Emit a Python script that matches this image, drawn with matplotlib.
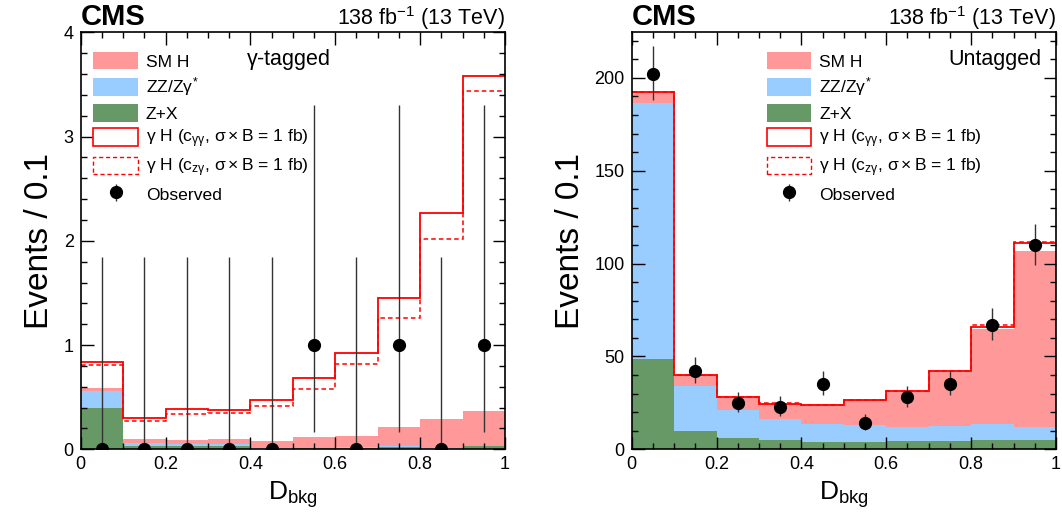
import numpy as np
import matplotlib
matplotlib.use("Agg")
import matplotlib.pyplot as plt
from matplotlib.patches import Patch
from matplotlib.ticker import MultipleLocator, FuncFormatter

plt.rcParams["font.family"] = ["Liberation Sans", "DejaVu Sans"]
plt.rcParams["mathtext.fontset"] = "custom"
plt.rcParams["mathtext.rm"] = "Liberation Sans"
plt.rcParams["mathtext.it"] = "Liberation Sans"
plt.rcParams["mathtext.bf"] = "Liberation Sans:bold"

edges = np.round(np.arange(0, 1.01, 0.1), 2)
centers = edges[:-1] + 0.05

# gamma-tagged category (stacked totals)
tag_zx = [0.40, 0.03, 0.03, 0.03, 0.005, 0.01, 0.015, 0.02, 0.005, 0.03]
tag_zz = [0.56, 0.064, 0.055, 0.05, 0.01, 0.015, 0.02, 0.03, 0.01, 0.035]
tag_smh = [0.59, 0.10, 0.09, 0.10, 0.083, 0.118, 0.128, 0.214, 0.29, 0.368]
tag_gg = [0.84, 0.297, 0.387, 0.374, 0.47, 0.684, 0.92, 1.455, 2.27, 3.58]
tag_zg = [0.805, 0.27, 0.34, 0.35, 0.415, 0.575, 0.815, 1.26, 2.02, 3.44]
tag_obs = [0, 0, 0, 0, 0, 1, 0, 1, 0, 1]
tag_lo = [0, 0, 0, 0, 0, 0.83, 0, 0.83, 0, 0.83]
tag_hi = [1.84, 1.84, 1.84, 1.84, 1.84, 2.30, 1.84, 2.30, 1.84, 2.30]

# untagged category (stacked totals)
unt_zx = [48.5, 9.9, 5.9, 5.0, 4.1, 4.1, 4.3, 4.3, 4.8, 4.8]
unt_zz = [186.6, 34.3, 21.2, 16.3, 13.6, 12.9, 12.0, 12.6, 13.8, 12.0]
unt_smh = [192.2, 39.9, 27.8, 24.4, 23.7, 26.4, 31.1, 41.6, 64.8, 106.8]
unt_gg = [192.2, 40.1, 28.0, 24.6, 23.9, 26.6, 31.3, 41.9, 66.1, 110.9]
unt_zg = [192.2, 40.2, 28.1, 24.7, 24.0, 26.7, 31.4, 42.4, 66.8, 111.8]
unt_obs = [202, 42, 25, 23, 35, 14, 28, 35, 67, 110]
unt_lo = [14, 6.5, 5.0, 4.8, 5.9, 3.7, 5.3, 5.9, 8.2, 10.5]
unt_hi = [15, 7.5, 6.0, 5.8, 6.9, 4.8, 6.3, 6.9, 9.2, 11.5]

c_smh = "#ff9999"
c_zz = "#99ccff"
c_zx = "#669966"
c_sig = "#ff0000"


def draw_panel(ax, zx, zz, smh, gg, zg, obs, lo, hi, ymax, major, minor, tag, tag_x, tag_ha, leg_x):
    ax.stairs(smh, edges, fill=True, color=c_smh, lw=0)
    ax.stairs(zz, edges, fill=True, color=c_zz, lw=0)
    ax.stairs(zx, edges, fill=True, color=c_zx, lw=0)
    ax.stairs(gg, edges, baseline=None, color=c_sig, lw=1.3)
    ax.stairs(zg, edges, baseline=None, color=c_sig, lw=1.1, ls=(0, (3, 2)))
    ax.errorbar(centers, obs, yerr=[lo, hi], fmt="o", color="black", ecolor="#333333",
                ms=8.5, elinewidth=1.0, capsize=0, zorder=5)

    ax.set_xlim(0, 1)
    ax.set_ylim(0, ymax)
    ax.xaxis.set_major_locator(MultipleLocator(0.2))
    ax.xaxis.set_minor_locator(MultipleLocator(0.05))
    ax.yaxis.set_major_locator(MultipleLocator(major))
    ax.yaxis.set_minor_locator(MultipleLocator(minor))
    ax.xaxis.set_major_formatter(FuncFormatter(lambda v, p: "%g" % round(v, 2)))
    ax.tick_params(which="both", direction="in", top=True, right=True, labelsize=13, width=1.0)
    ax.tick_params(which="major", length=9, pad=5)
    ax.tick_params(which="minor", length=4.5)
    for s in ax.spines.values():
        s.set_linewidth(1.2)

    ax.set_xlabel(r"D$_{\mathregular{bkg}}$", fontsize=19, labelpad=4)
    ax.set_ylabel("Events / 0.1", fontsize=24, labelpad=6)

    ax.text(0.0, 1.017, "CMS", transform=ax.transAxes, fontsize=21, fontweight="bold",
            ha="left", va="baseline")
    ax.text(1.0, 1.017, r"138 fb$^{\mathregular{-1}}$ (13 TeV)", transform=ax.transAxes,
            fontsize=15.5, ha="right", va="baseline")
    ax.text(tag_x, 0.935, tag, transform=ax.transAxes, fontsize=15.5, ha=tag_ha, va="center")

    handles = [
        Patch(facecolor=c_smh, edgecolor="none"),
        Patch(facecolor=c_zz, edgecolor="none"),
        Patch(facecolor=c_zx, edgecolor="none"),
        Patch(facecolor="white", edgecolor=c_sig, lw=1.2),
        Patch(facecolor="white", edgecolor=c_sig, lw=1.0, ls=(0, (3, 2))),
        ax.errorbar([], [], yerr=[], fmt="o", color="black", ecolor="#333333",
                    ms=8.5, elinewidth=1.0),
    ]
    labels = [
        "SM H",
        r"ZZ/Z$\gamma^{*}$",
        "Z+X",
        r"$\gamma$ H (c$_{\gamma\gamma}$, $\sigma\times$B = 1 fb)",
        r"$\gamma$ H (c$_{z\gamma}$, $\sigma\times$B = 1 fb)",
        "Observed",
    ]
    ax.legend(handles, labels, loc="upper left", bbox_to_anchor=(leg_x, 0.953),
              frameon=False, fontsize=12.6, handlelength=2.55, handleheight=1.15,
              labelspacing=0.34, handletextpad=0.45, borderpad=0, borderaxespad=0)


fig = plt.figure(figsize=(10.62, 5.18), dpi=100)
ax1 = fig.add_axes([0.0760, 0.1326, 0.3995, 0.805])
ax2 = fig.add_axes([0.5948, 0.1326, 0.3995, 0.805])

draw_panel(ax1, tag_zx, tag_zz, tag_smh, tag_gg, tag_zg, tag_obs, tag_lo, tag_hi,
           4, 1, 0.2, r"$\gamma$-tagged", 0.39, "left", 0.03)
draw_panel(ax2, unt_zx, unt_zz, unt_smh, unt_gg, unt_zg, unt_obs, unt_lo, unt_hi,
           224.5, 50, 10, "Untagged", 0.965, "right", 0.318)

fig.savefig("out.png", dpi=100)
